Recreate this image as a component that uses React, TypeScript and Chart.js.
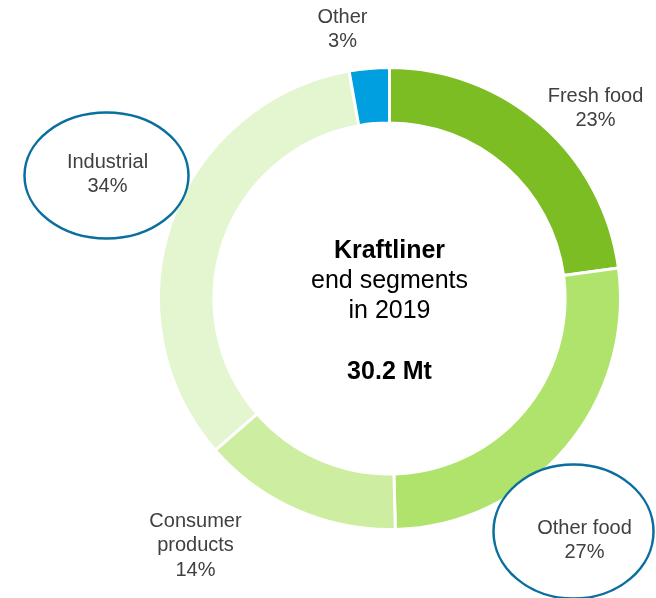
import React, { useEffect, useRef } from "react";
import { Chart, registerables } from "chart.js";

Chart.register(...registerables);

const segments = ["Fresh food", "Other food", "Consumer products", "Industrial", "Other"];
const shares = [22.9, 26.7, 14.0, 33.6, 2.8];
const shareLabels = ["23%", "27%", "14%", "34%", "3%"];
const colors = ["#7bbd22", "#b0e36c", "#cdeda0", "#e3f6d0", "#009fdf"];
const labelLines = [["Fresh food"], ["Other food"], ["Consumer", "products"], ["Industrial"], ["Other"]];
// label anchor offsets relative to the doughnut centre (annotation placement)
const labelOffsets = [[206, -190], [195, 242], [-194, 247], [-282, -124], [-47, -269]];
const circled = [false, true, false, true, false];
const ellipseSize = [[0, 0], [80, 67], [0, 0], [82, 63], [0, 0]];
const ellipseShift = [[0, 0], [-11, -9], [0, 0], [-1, 1], [0, 0]];
const centerTitle = "Kraftliner";
const centerLines = ["end segments", "in 2019"];
const centerTotal = "30.2 Mt";

export default function App() {
  const ref = useRef<HTMLCanvasElement>(null);
  useEffect(() => {
    document.body.style.margin = "0";
    const annot = {
      id: "annot",
      afterDraw(chart: any) {
        const ctx = chart.ctx;
        const arc = chart.getDatasetMeta(0).data[0];
        const cx = arc.x;
        const cy = arc.y;
        ctx.save();
        ctx.textAlign = "center";
        ctx.textBaseline = "middle";
        ctx.fillStyle = "#000";
        ctx.font = "bold 25px 'Liberation Sans', Arial, sans-serif";
        ctx.fillText(centerTitle, cx, cy - 47);
        ctx.font = "25px 'Liberation Sans', Arial, sans-serif";
        centerLines.forEach((l, i) => ctx.fillText(l, cx, cy - 17 + i * 30));
        ctx.font = "bold 25px 'Liberation Sans', Arial, sans-serif";
        ctx.fillText(centerTotal, cx, cy + 74);
        segments.forEach((_, i) => {
          const lx = cx + labelOffsets[i][0];
          const ly = cy + labelOffsets[i][1];
          if (circled[i]) {
            ctx.beginPath();
            ctx.ellipse(lx + ellipseShift[i][0], ly + ellipseShift[i][1], ellipseSize[i][0], ellipseSize[i][1], 0, 0, Math.PI * 2);
            ctx.fillStyle = "#ffffff";
            ctx.fill();
            ctx.lineWidth = 2.5;
            ctx.strokeStyle = "#0a6f9e";
            ctx.stroke();
          }
          const lines = [...labelLines[i], shareLabels[i]];
          ctx.fillStyle = "#404040";
          ctx.font = "20px 'Liberation Sans', Arial, sans-serif";
          const h = 24.5;
          const start = ly - ((lines.length - 1) * h) / 2;
          lines.forEach((l, j) => ctx.fillText(l, lx, start + j * h));
        });
        ctx.restore();
      },
    };
    const chart = new Chart(ref.current!, {
      type: "doughnut",
      data: {
        labels: segments,
        datasets: [
          {
            data: shares,
            backgroundColor: colors,
            borderColor: "#ffffff",
            borderWidth: 3,
            hoverOffset: 0,
          },
        ],
      },
      options: {
        responsive: false,
        animation: false,
        cutout: "76%",
        layout: { padding: { left: 157, right: 34, top: 66, bottom: 67 } },
        plugins: { legend: { display: false }, tooltip: { enabled: false } },
      },
      plugins: [annot],
    });
    return () => chart.destroy();
  }, []);
  return (
    <div style={{ position: "absolute", left: 0, top: 0, width: 656, height: 598, background: "#fff" }}>
      <canvas ref={ref} width={656} height={598} style={{ width: 656, height: 598 }} />
    </div>
  );
}
